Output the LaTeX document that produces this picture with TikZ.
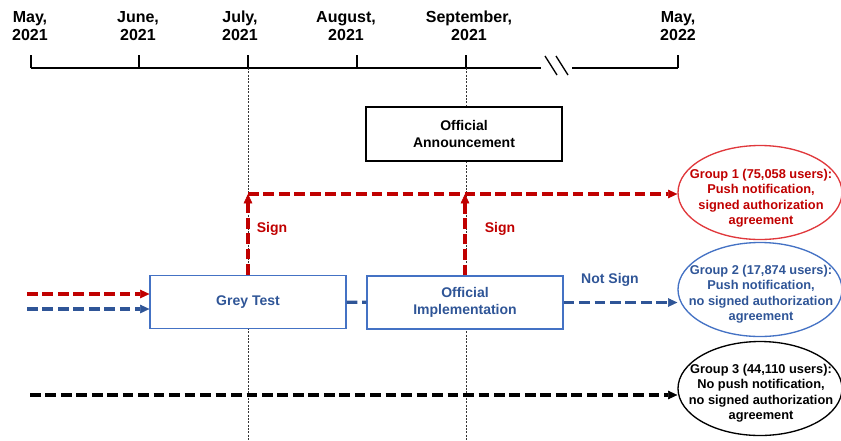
\documentclass[tikz,border=0pt]{standalone}
\usepackage{fontspec}
\setmainfont{Liberation Sans}
\usetikzlibrary{arrows.meta,shapes.geometric}
\definecolor{penRed}{HTML}{C00000}
\definecolor{penRed2}{HTML}{E0383C}
\definecolor{penBlue}{HTML}{2F5597}
\definecolor{boxBlue}{HTML}{4472C4}
\tikzset{>={Triangle[length=7pt,width=6.5pt,line width=0.4pt]}}
\tikzset{
  month/.style={align=center,font=\fontsize{12}{13.5}\selectfont\bfseries},
  stagebox/.style={draw=boxBlue,line width=0.9pt,fill=white,minimum width=147pt,
    minimum height=39.75pt,align=center,text=penBlue,font=\fontsize{10.5}{13.3}\selectfont\bfseries},
  group/.style={ellipse,draw,line width=1pt,minimum width=123pt,minimum height=70.5pt,inner sep=0pt},
  grouptext/.style={align=center,font=\fontsize{9.6}{11.6}\selectfont\bfseries},
  flow/.style={line width=2.3pt,dash pattern=on 8pt off 3.6pt},
  guide/.style={line width=0.5pt,dash pattern=on 1.5pt off 1pt,black!80},
  lbl/.style={font=\fontsize{10.5}{12}\selectfont\bfseries}
}
\begin{document}
\begin{tikzpicture}[x=0.75pt,y=-0.75pt]
      \useasboundingbox (0,0) rectangle (841,440);
      % time line
      \foreach \x/\n in {31/0,139/1,248/2,357/3,466/4,678/5}
        \coordinate (t\n) at (\x,68);
      \node[month] (m0) at (30,26) {May,\\2021};
      \node[month] (m1) at (138,26) {June,\\2021};
      \node[month] (m2) at (240,26) {July,\\2021};
      \node[month] (m3) at (346,26) {August,\\2021};
      \node[month] (m4) at (469,26) {September,\\2021};
      \node[month] (m5) at (678,26) {May,\\2022};
      \draw[line width=1.5pt] (t0) -- (541,68);
      \draw[line width=1.5pt] (572,68) -- (t5);
      \foreach \n in {0,...,5}
        \draw[line width=1pt] (t\n) -- ++(0,-13);
      \draw[line width=1pt] (545,56) -- (557,75);
      \draw[line width=1pt] (556,56) -- (568,75);
      \draw[guide] (t2) -- (248,440);
      \draw[guide] (t4) -- (466,440);
      % stages
      \node[stagebox,draw=black,text=black,minimum height=40.5pt] (annc) at (464,134) {Official\\Announcement};
      \node[stagebox] (grey) at (248,302) {Grey Test};
      \node[stagebox] (impl) at (465,302.5) {Official\\Implementation};
      % groups
      \node[group,draw=penRed2] (g1) at (760,192.5) {};
      \node[group,draw=boxBlue] (g2) at (760,289.5) {};
      \node[group,draw=black] (g3) at (760,388.5) {};
      \node[grouptext,text=penRed] (g1t) at (761,198) {Group 1 (75,058 users):\\Push notification,\\signed authorization\\agreement};
      \node[grouptext,text=penBlue] (g2t) at (761,294) {Group 2 (17,874 users):\\Push notification,\\no signed authorization\\agreement};
      \node[grouptext,text=black] (g3t) at (761,393) {Group 3 (44,110 users):\\No push notification,\\no signed authorization\\agreement};
      % flows
      \coordinate (redIn) at (27,294);
      \coordinate (blueIn) at (27,309);
      \coordinate (blackIn) at (30,395);
      \coordinate (signA) at (248,194);
      \draw[flow,penRed,->] (redIn) -- (redIn -| grey.west);
      \draw[flow,penBlue,->] (blueIn) -- (blueIn -| grey.west);
      \draw[flow,penBlue] (grey) -- (impl);
      \draw[flow,penRed,->] (grey) -- (signA);
      \draw[flow,penRed,->] (signA) -- (signA -| g1.west);
      \draw[flow,penRed,->] (impl) -- (impl |- signA);
      \draw[flow,penBlue,->] (impl) -- (impl -| g2.west);
      \draw[flow,black,->] (blackIn) -- (blackIn -| g3.west);
      \node[lbl,text=penRed] (signL) at (272,229) {Sign};
      \node[lbl,text=penRed] (signR) at (500,229) {Sign};
      \node[lbl,text=penBlue] (nosign) at (610,280) {Not Sign};
    \end{tikzpicture}
\end{document}
